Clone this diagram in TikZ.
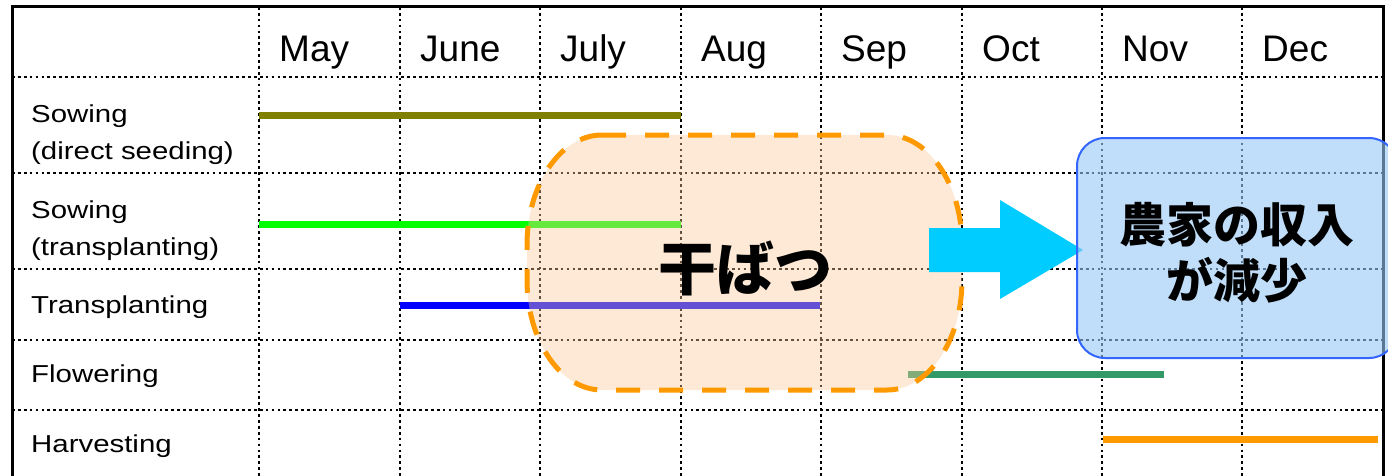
\documentclass[tikz,border=0pt]{standalone}
\usepackage{fontspec}
\setmainfont{Liberation Sans}
\newfontfamily\rowfont[FakeStretch=1.2]{Liberation Sans}
\newfontfamily\jpfont{Noto Sans CJK JP}
\definecolor{barolive}{RGB}{128,128,0}
\definecolor{barlime}{RGB}{0,255,0}
\definecolor{barblue}{RGB}{0,0,255}
\definecolor{barsea}{RGB}{51,153,102}
\definecolor{barorange}{RGB}{255,153,0}
\definecolor{arrowcyan}{RGB}{0,204,255}
\definecolor{droughtfill}{RGB}{250,202,150}
\definecolor{incomefill}{RGB}{150,200,245}
\definecolor{incomeline}{RGB}{51,102,255}
\begin{document}
\begin{tikzpicture}[x=1pt,y=-1pt,
  gridline/.style={line width=2.7pt, dash pattern=on 2.7pt off 3.2pt, black},
  bar/.style={line width=7pt},
  month/.style={anchor=base west, inner sep=0pt, font=\fontsize{37}{40}\selectfont},
  rowlab/.style={anchor=base west, inner sep=0pt, font=\rowfont\fontsize{24.5}{28}\selectfont},
  droughtfillstyle/.style={fill=droughtfill, fill opacity=0.4},
  droughtline/.style={draw=barorange, line width=5pt, dash pattern=on 24pt off 19pt},
  corner/.style={x radius=75pt, y radius=110pt},
  incomebox/.style={draw=incomeline, line width=2pt, fill=incomefill, fill opacity=0.6,
    rounded corners=28pt, inner sep=0pt},
  jplab/.style={font=\jpfont\bfseries, inner sep=0pt, align=center}
]
\clip (0,0) rectangle (1388,476);
\fill[white] (0,0) rectangle (1388,476);
% grid
\foreach \x in {259,400,540,681,821,962,1102,1242}
  \draw[gridline] (\x,7) -- (\x,480);
\foreach \y in {77,173,269,340,410}
  \draw[gridline] (12,\y) -- (1383,\y);
\draw[line width=3pt] (12,490) -- (12,7) -- (1383,7) -- (1383,490);
% months
\node[month] (may) at (279,62) {May};
\node[month] (jun) at (420,62) {June};
\node[month] (jul) at (560,62) {July};
\node[month] (aug) at (701,62) {Aug};
\node[month] (sep) at (841,62) {Sep};
\node[month] (oct) at (982,62) {Oct};
\node[month] (nov) at (1122,62) {Nov};
\node[month] (dec) at (1262,62) {Dec};
% row labels
\node[rowlab] (r1a) at (31,122) {Sowing};
\node[rowlab] (r1b) at (31,159) {(direct seeding)};
\node[rowlab] (r2a) at (31,218) {Sowing};
\node[rowlab] (r2b) at (31,255) {(transplanting)};
\node[rowlab] (r3) at (31,313) {Transplanting};
\node[rowlab] (r4) at (31,382) {Flowering};
\node[rowlab] (r5) at (31,452) {Harvesting};
% bars
\draw[bar, barolive] (259,116) -- (681,116);
\draw[bar, barlime] (259,224) -- (681,224);
\draw[bar, barblue] (400,305) -- (820,305);
\draw[bar, barsea] (908,374) -- (1164,374);
\draw[bar, barorange] (1103,439) -- (1378,439);
% drought (rounded shape with elliptical corners)
\path[droughtfillstyle] (602,135) -- (887,135) arc[start angle=90, end angle=0, corner]
  -- (962,280) arc[start angle=0, end angle=-90, corner]
  -- (602,390) arc[start angle=270, end angle=180, corner]
  -- (527,245) arc[start angle=180, end angle=90, corner] -- cycle;
\draw[droughtline] (602,135) -- (887,135) arc[start angle=90, end angle=0, corner]
  -- (962,280) arc[start angle=0, end angle=-90, corner]
  -- (602,390) arc[start angle=270, end angle=180, corner]
  -- (527,245) arc[start angle=180, end angle=90, corner] -- cycle;
\node[jplab, font=\jpfont\bfseries\fontsize{58}{60}\selectfont] (droughttxt) at (745,268) {干ばつ};
% arrow
\fill[arrowcyan] (929,228) -- (1000,228) -- (1000,200) -- (1083,250) -- (1000,299)
  -- (1000,272) -- (929,272) -- cycle;
% income
\node[incomebox, minimum width=320pt, minimum height=220pt] (income) at (1237,248) {};
\node[jplab, font=\jpfont\bfseries\fontsize{47}{56}\selectfont] (incometxt) at (1237,253) {農家の収入\\が減少};
\end{tikzpicture}
\end{document}
